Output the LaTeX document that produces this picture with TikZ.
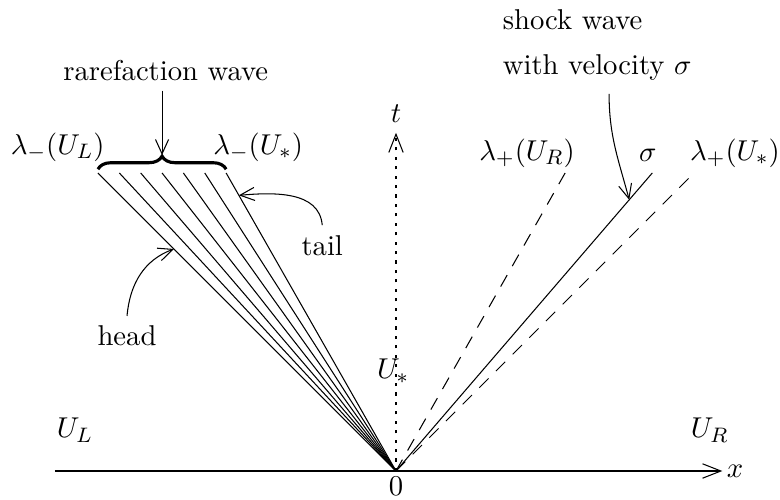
\documentclass[tikz,border=0pt,11pt]{standalone}
\usetikzlibrary{arrows.meta,calc,decorations.pathreplacing,positioning}
\tikzset{
  axis/.style={-{Straight Barb[length=7pt,width=5.5pt]}, thin},
  fan/.style={thin},
  charline/.style={thin, dash pattern=on 5pt off 4pt},
  shock/.style={thin},
  pointer/.style={-{Straight Barb[length=5.5pt,width=5pt]}, thin},
  bracket/.style={decorate, decoration={brace,amplitude=5pt}, line width=1.2pt}
}
\begin{document}
\begin{tikzpicture}
  \useasboundingbox (-5.315,-0.376) rectangle (5.154,6.322);
  \coordinate (o) at (0,0);
  % axes
  \coordinate (xl) at (-4.58,0);
  \coordinate (xr) at (4.38,0);
  \coordinate (tt) at (0,4.54);
  \draw[axis] (xl) -- (xr);
  \draw[axis,dash pattern=on 1.2pt off 2.4pt] (o) -- (tt);
  \node (xlab) at (4.55,0) {$x$};
  \node (tlab) at (0,4.8) {$t$};
  \node (zero) at (0,-0.2) {$0$};
  % rarefaction fan
  \foreach \k in {0,...,6}
    \draw[fan] (o) -- (-4+0.2867*\k,4) coordinate (f\k);
  \draw[bracket] ($(f0)+(0,0.05)$) -- ($(f6)+(0,0.05)$);
  \coordinate (br) at (-3.14,4.24);
  \node (lamL) at (-4.54,4.35) {$\lambda_-(U_L)$};
  \node (lamS) at (-1.85,4.35) {$\lambda_-(U_*)$};
  \node (rare) at (-3.09,5.38) {rarefaction wave};
  \draw[pointer] (rare.south -| br) -- (br);
  \node (tail) at (-0.99,3.03) {tail};
  \coordinate (tl) at ($(o)!0.925!(f6)$);
  \draw[pointer] (tail.north) to[out=95,in=5] (tl);
  \node (head) at (-3.61,1.81) {head};
  \coordinate (hd) at ($(o)!0.745!(f0)$);
  \draw[pointer] (head.north) to[out=85,in=200] (hd);
  % shock side
  \draw[charline] (o) -- (2.27,4) coordinate (cR);
  \draw[shock] (o) -- (3.44,4) coordinate (sg);
  \draw[charline] (o) -- (3.95,3.95) coordinate (cS);
  \node (lamR) at (1.76,4.27) {$\lambda_+(U_R)$};
  \node (sig) at (3.38,4.24) {$\sigma$};
  \node (lamRS) at (4.55,4.27) {$\lambda_+(U_*)$};
  \node[align=left] (shk) at (2.7,5.72) {shock wave\\[3.5pt]with velocity $\sigma$};
  \coordinate (sk) at ($(o)!0.91!(sg)$);
  \draw[pointer] ([xshift=1.6mm,yshift=-0.5mm]shk.south) to[out=-90,in=105] (sk);
  % states
  \node (UL) at (-4.31,0.55) {$U_L$};
  \node (UR) at (4.21,0.55) {$U_R$};
  \node (Us) at (-0.04,1.34) {$U_*$};
\end{tikzpicture}
\end{document}
